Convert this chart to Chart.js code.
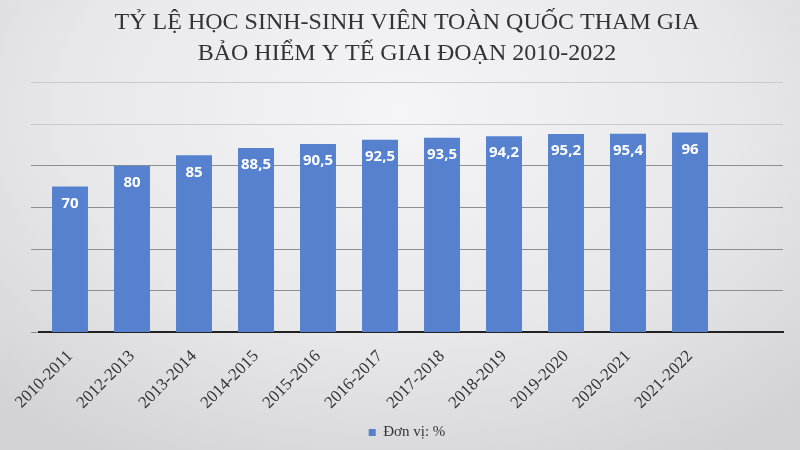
<!DOCTYPE html>
<html lang="vi">
<head>
  <meta charset="UTF-8">
  <title>Tỷ lệ học sinh-sinh viên tham gia BHYT</title>
  <script src="https://cdn.jsdelivr.net/npm/chart.js"></script>
  <style>
    html, body {
      margin: 0;
      padding: 0;
    }
    .wrap {
      width: 800px;
      height: 450px;
      background: radial-gradient(ellipse 75% 90% at 50% 25%, #f5f5f7 0%, #e8e8ea 55%, #d2d2d4 100%);
    }
  </style>
</head>
<body>
  <div class="wrap">
    <canvas id="myChart" width="800" height="450"></canvas>
  </div>

  <script>
    // school years (the chart leaves one empty slot on the right)
    const years = ["2010-2011", "2012-2013", "2013-2014", "2014-2015", "2015-2016", "2016-2017",
                   "2017-2018", "2018-2019", "2019-2020", "2020-2021", "2021-2022"];
    const rates = [70, 80, 85, 88.5, 90.5, 92.5, 93.5, 94.2, 95.2, 95.4, 96];
    const titleLines = ["TỶ LỆ HỌC SINH-SINH VIÊN TOÀN QUỐC THAM GIA",
                        "BẢO HIỂM Y TẾ GIAI ĐOẠN 2010-2022"];
    const seriesName = "Đơn vị: %";

    const barColor = "#5581cf";
    const serif = "'Liberation Serif', 'DejaVu Serif', serif";

    // white value labels near the top of each bar
    const valueLabels = {
      id: "valueLabels",
      afterDatasetsDraw(chart) {
        const c = chart.ctx;
        const meta = chart.getDatasetMeta(0);
        c.save();
        c.fillStyle = "#ffffff";
        c.font = "bold 15px 'Open Sans', 'Noto Sans', sans-serif";
        c.textAlign = "center";
        c.textBaseline = "middle";
        meta.data.forEach((bar, i) => {
          const v = chart.data.datasets[0].data[i];
          if (v == null) return;
          c.fillText(String(v).replace(".", ","), bar.x, bar.y + 17);
        });
        c.restore();
      }
    };

    const ctx = document.getElementById("myChart").getContext("2d");
    new Chart(ctx, {
      type: "bar",
      data: {
        labels: years.concat([""]),
        datasets: [{
          label: seriesName,
          data: rates,
          backgroundColor: barColor,
          borderWidth: 0,
          barPercentage: 0.58,
          categoryPercentage: 1
        }]
      },
      options: {
        responsive: false,
        animation: false,
        layout: { padding: { left: 31, right: 17, top: 7, bottom: 0 } },
        plugins: {
          title: {
            display: true,
            text: titleLines,
            color: "#333333",
            font: { family: serif, size: 24, weight: "normal", lineHeight: 1.3 },
            padding: { top: 0, bottom: 13 }
          },
          legend: {
            position: "bottom",
            labels: {
              color: "#333333",
              font: { family: serif, size: 15 },
              boxWidth: 7,
              boxHeight: 7,
              padding: 6
            }
          },
          tooltip: { enabled: false }
        },
        scales: {
          x: {
            grid: { display: false },
            border: { color: "#222222", width: 2 },
            ticks: {
              color: "#333333",
              font: { family: serif, size: 17 },
              maxRotation: 45,
              minRotation: 45,
              padding: 6
            }
          },
          y: {
            min: 0,
            max: 120,
            ticks: { display: false, stepSize: 20 },
            border: { display: false },
            grid: {
              color: (c) => (c.tick && c.tick.value >= 100 ? "#c9c9cb" : "#8e8e90"),
              lineWidth: 1
            }
          }
        }
      },
      plugins: [valueLabels]
    });
  </script>
</body>
</html>
